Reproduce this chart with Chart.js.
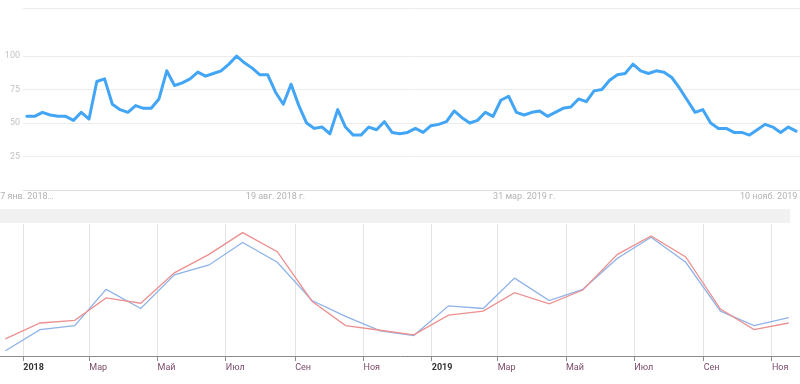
<!DOCTYPE html>
<html>
<head>
<meta charset="utf-8">
<script src="https://cdn.jsdelivr.net/npm/chart.js@4.4.1/dist/chart.umd.min.js"></script>
<style>
  html, body { margin: 0; padding: 0; background: #fff; }
  #wrap { position: relative; width: 800px; height: 384px; overflow: hidden; }
  #main { position: absolute; left: 0; top: 0; }
  #nav { position: absolute; left: 0; top: 205px; }
  .band { position: absolute; left: 0; top: 209px; width: 790px; height: 14px; background: #f1f1f1; }
</style>
</head>
<body>
<div id="wrap">
  <canvas id="main" width="800" height="205"></canvas>
  <div class="band"></div>
  <canvas id="nav" width="800" height="179"></canvas>
</div>
<script>
// weekly interest, weeks from 7 Jan 2018
const weekly = [
  55, 55, 58, 56, 55, 55, 52, 58, 53, 81, 83, 64, 60, 58, 63, 61, 61, 68, 89, 78, 80, 83, 88,
  85, 87, 89, 94, 100, 95, 91, 86, 86, 73, 64, 79, 63, 50, 46, 47, 42, 60, 47, 41, 41, 47, 45, 51, 43,
  42, 43, 46, 43, 48, 49, 51, 59, 54, 50, 52, 58, 55, 67, 70, 58, 56, 58, 59, 55, 58, 61, 62, 68, 66,
  74, 75, 82, 86, 87, 94, 89, 87, 89, 88, 84, 76, 67, 58, 60, 50, 46, 46, 43, 43, 41, 45, 49, 47, 43, 47, 44
];
const weekTickLabels = ['7 янв. 2018…', '19 авг. 2018 г.', '31 мар. 2019 г.', '10 нояб. 2019 г.'];
const weekTickStep = 32;
const yTickValues = [25, 50, 75, 100];

// monthly overview (navigator)
const months = [
  '2017-12', '2018-01', '2018-02', '2018-03', '2018-04', '2018-05', '2018-06', '2018-07',
  '2018-08', '2018-09', '2018-10', '2018-11', '2018-12', '2019-01', '2019-02', '2019-03',
  '2019-04', '2019-05', '2019-06', '2019-07', '2019-08', '2019-09', '2019-10', '2019-11'
];
const navBlue = [4, 20, 23, 50.5, 36, 61.5, 69, 86, 71, 42, 30, 19, 15.5, 38, 36, 59, 42, 50.5, 74, 90, 71, 34, 23, 29];
const navRed = [13, 25, 27, 44, 40, 63, 77, 93.5, 79, 41.5, 23, 19.5, 16, 31, 34, 48, 39.5, 50, 77, 91, 75, 35.5, 20, 25];
const navTickMonths = ['2018-01', '2018-03', '2018-05', '2018-07', '2018-09', '2018-11',
  '2019-01', '2019-03', '2019-05', '2019-07', '2019-09', '2019-11'];
const navTickLabels = ['2018', 'Мар', 'Май', 'Июл', 'Сен', 'Ноя', '2019', 'Мар', 'Май', 'Июл', 'Сен', 'Ноя'];

const DAY = 864e5;
const origin = Date.UTC(2018, 0, 1);
function dayOf(ym, d) {
  const [y, m] = ym.split('-').map(Number);
  return (Date.UTC(y, m - 1, d) - origin) / DAY;
}
const weekLabels = weekly.map((_, i) => new Date(Date.UTC(2018, 0, 7) + i * 7 * DAY).toISOString().slice(0, 10));

new Chart(document.getElementById('main'), {
  type: 'line',
  data: {
    labels: weekLabels,
    datasets: [{
      data: weekly,
      borderColor: '#42a5f5',
      borderWidth: 3,
      pointRadius: 0,
      tension: 0,
      borderJoinStyle: 'round',
      borderCapStyle: 'round',
    }],
  },
  options: {
    responsive: false,
    animation: false,
    events: [],
    layout: { padding: { top: 7, left: 0, right: 0, bottom: 0 } },
    plugins: { legend: { display: false }, tooltip: { enabled: false } },
    scales: {
      x: {
        offset: true,
        grid: { display: false, drawTicks: false },
        border: { display: true, color: '#dcdcdc' },
        ticks: {
          autoSkip: false, maxRotation: 0, padding: 1,
          color: '#b3b3b3', font: { family: 'Roboto', size: 9 },
          callback: (v, i) => (i % weekTickStep === 0 ? weekTickLabels[i / weekTickStep] || '' : ''),
        },
        afterFit: s => { s.height = 15; s.paddingLeft = 0; s.paddingRight = 0; },
      },
      y: {
        min: 0, max: 135.6,
        grid: { color: ctx => (ctx.tick.value === 0 ? '#dcdcdc' : '#ececec'), drawTicks: false },
        border: { display: false },
        ticks: {
          padding: 3, color: '#c4c4c4', font: { family: 'Roboto', size: 9 },
          callback: v => (yTickValues.includes(v) ? v : ''),
        },
        afterBuildTicks: s => { s.ticks = [0, ...yTickValues, 135.6].map(v => ({ value: v })); },
        afterFit: s => { s.width = 23; },
      },
    },
  },
});

const isYear = i => /^\d{4}$/.test(navTickLabels[i]);

new Chart(document.getElementById('nav'), {
  type: 'line',
  data: {
    datasets: [
      { data: months.map((m, i) => ({ x: dayOf(m, 16), y: navRed[i] })), borderColor: '#ec9090', borderWidth: 1.3, pointRadius: 0, tension: 0 },
      { data: months.map((m, i) => ({ x: dayOf(m, 16), y: navBlue[i] })), borderColor: '#8fb3e8', borderWidth: 1.3, pointRadius: 0, tension: 0 },
    ],
  },
  options: {
    responsive: false,
    animation: false,
    events: [],
    layout: { padding: { top: 19, left: 0, right: 0, bottom: 0 } },
    plugins: { legend: { display: false }, tooltip: { enabled: false } },
    scales: {
      x: {
        type: 'linear', min: -20.8, max: 694.1,
        grid: { color: '#e4e4e4', tickColor: '#8c8c8c', tickLength: 5 },
        border: { color: '#8c8c8c' },
        ticks: {
          align: 'start', padding: 1, maxRotation: 0, autoSkip: false,
          color: ctx => (isYear(ctx.index) ? '#333' : '#7a4a6a'),
          font: ctx => ({ family: 'Roboto', size: 9, weight: isYear(ctx.index) ? 'bold' : 'normal' }),
          callback: (v, i) => navTickLabels[i],
        },
        afterBuildTicks: s => { s.ticks = navTickMonths.map(m => ({ value: dayOf(m, 1) })); },
        afterFit: s => { s.height = 28; s.paddingLeft = 0; s.paddingRight = 0; },
      },
      y: { display: false, min: 0, max: 100 },
    },
  },
});
</script>
</body>
</html>
